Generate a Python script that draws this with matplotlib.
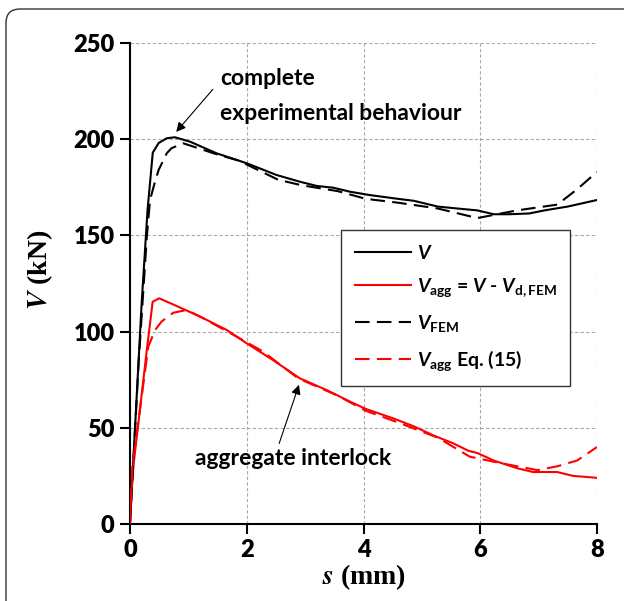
import matplotlib
matplotlib.use("Agg")
import matplotlib.pyplot as plt
from matplotlib.patches import FancyBboxPatch

# --- DATA ---
s_V = [0, 0.10, 0.20, 0.30, 0.36, 0.39, 0.49, 0.63, 0.77, 1.03, 1.48, 2.00, 2.51,
       2.91, 3.20, 3.48, 3.77, 4.10, 4.59, 4.86, 5.27, 5.60, 5.95, 6.23, 6.50,
       6.84, 7.10, 7.50, 8.00]
V = [0, 58, 115, 163, 183, 193, 198, 200.5, 201, 198.7, 192.7, 187.5, 181.4,
     177.9, 175.7, 174.8, 172.7, 171, 169, 168, 165, 164, 163, 161, 161,
     161.4, 163, 165, 168.4]

s_fem = [0, 0.15, 0.29, 0.343, 0.42, 0.49, 0.63, 0.71, 0.91, 1.09, 1.52, 1.86,
         2.54, 2.95, 3.56, 4.04, 4.59, 5.27, 5.95, 6.29, 6.63, 7.32, 7.66, 8.0]
V_fem = [0, 85, 150, 168.4, 177, 184, 192.7, 195.3, 197.9, 196.1, 191.8, 188.9,
         178.9, 176, 173, 169, 167, 164, 159, 161, 163, 166, 174, 183]

s_agg = [0, 0.057, 0.285, 0.388, 0.50, 0.80, 1.20, 1.66, 2.00, 2.45, 2.91, 3.37,
         3.77, 4.04, 4.50, 4.86, 5.20, 5.54, 5.80, 5.95, 6.23, 6.63, 6.91, 7.32,
         7.59, 8.0]
V_agg = [5.5, 29.8, 89.6, 115.5, 117.3, 113.3, 107.8, 100.8, 93.9, 85.2, 75.7,
         69.6, 63.6, 59.8, 55, 50.8, 46, 41.9, 38, 36.9, 33, 29, 27, 27, 25, 24]

s_eq = [0, 0.04, 0.314, 0.43, 0.54, 0.74, 0.97, 1.20, 1.88, 2.28, 2.88, 3.56,
        4.04, 4.59, 5.27, 5.82, 6.29, 6.98, 7.32, 7.66, 8.0]
V_eq = [0, 29.8, 92.2, 100.8, 105.2, 109.8, 111.2, 107.8, 96.5, 89.6, 75.7, 66.7,
        58.8, 52.8, 44.9, 35, 32, 28, 30, 33, 40]

x_ticks = [0, 2, 4, 6, 8]
y_ticks = [0, 50, 100, 150, 200, 250]

plt.rcParams['font.family'] = ['Lato', 'DejaVu Sans']
plt.rcParams['font.weight'] = 'bold'
plt.rcParams['mathtext.fontset'] = 'custom'
plt.rcParams['mathtext.rm'] = 'Lato:bold'
plt.rcParams['mathtext.it'] = 'Lato:bold:italic'
plt.rcParams['mathtext.bf'] = 'Lato:bold'

fig = plt.figure(figsize=(6.24, 6.01), dpi=100)
ax = fig.add_axes([130/624, 77/601, 467/624, 481/601])

# rounded frame around the figure
frame = FancyBboxPatch((6, -30), 660, 601 - 9 + 30,
                       boxstyle='round,pad=0,rounding_size=14',
                       transform=None, fill=False, lw=1.0, ec='#333333')
fig.add_artist(frame)

dash = (0, (7, 3.5))
ax.plot(s_V, V, color='black', lw=1.5, label=r'$V$', zorder=3)
ax.plot(s_agg, V_agg, color='red', lw=1.5,
        label=r'$V_{\mathrm{agg}}$ = $V$ - $V_{\mathrm{d,FEM}}$', zorder=3)
ax.plot(s_fem, V_fem, color='black', lw=1.5, ls=dash, label=r'$V_{\mathrm{FEM}}$', zorder=3)
ax.plot(s_eq, V_eq, color='red', lw=1.5, ls=dash,
        label=r'$V_{\mathrm{agg}}$ Eq. (15)', zorder=3)

ax.set_xlim(0, 8)
ax.set_ylim(0, 250)
ax.set_xticks(x_ticks)
ax.set_yticks(y_ticks)
ax.grid(True, color='#aaaaaa', lw=0.8, ls=(0, (3, 2)))
ax.spines['top'].set_visible(False)
ax.spines['right'].set_visible(False)
for sp in ['left', 'bottom']:
    ax.spines[sp].set_linewidth(1.5)
ax.tick_params(axis='both', direction='out', length=7, width=1.5,
               labelsize=17, pad=4)
for lab in ax.get_xticklabels() + ax.get_yticklabels():
    lab.set_fontweight('heavy')

ax.set_xlabel(r'$\mathbfit{s}$ (mm)', family='Liberation Serif', fontsize=20,
              fontweight='bold', math_fontfamily='stix', labelpad=1)
ax.set_ylabel(r'$\mathbfit{V}$ (kN)', family='Liberation Serif', fontsize=20,
              fontweight='bold', math_fontfamily='stix')
ax.yaxis.set_label_coords(-0.16, 0.528)

leg = ax.legend(loc='upper left', bbox_to_anchor=(0.452, 0.611),
                borderaxespad=0, fontsize=14, handlelength=2.9,
                handletextpad=0.3, borderpad=0.7, labelspacing=0.72,
                frameon=True, fancybox=False, edgecolor='#333333', framealpha=1)
leg.get_frame().set_linewidth(1.0)

# annotations
ax.text(1.55, 231.5, 'complete', fontsize=16.5, fontweight='bold', va='center', ha='left')
ax.text(1.55, 213.6, 'experimental behaviour', fontsize=16.5, fontweight='bold',
        va='center', ha='left')
ax.annotate('', xy=(0.76, 202.7), xytext=(1.45, 227),
            arrowprops=dict(arrowstyle='-|>', color='black', lw=0.8, mutation_scale=14))
ax.text(1.12, 34.0, 'aggregate interlock', fontsize=16.5, fontweight='bold',
        va='center', ha='left')
ax.annotate('', xy=(2.91, 73.7), xytext=(2.54, 40.5),
            arrowprops=dict(arrowstyle='-|>', color='black', lw=0.8, mutation_scale=14))

fig.savefig('out.png', dpi=100)
